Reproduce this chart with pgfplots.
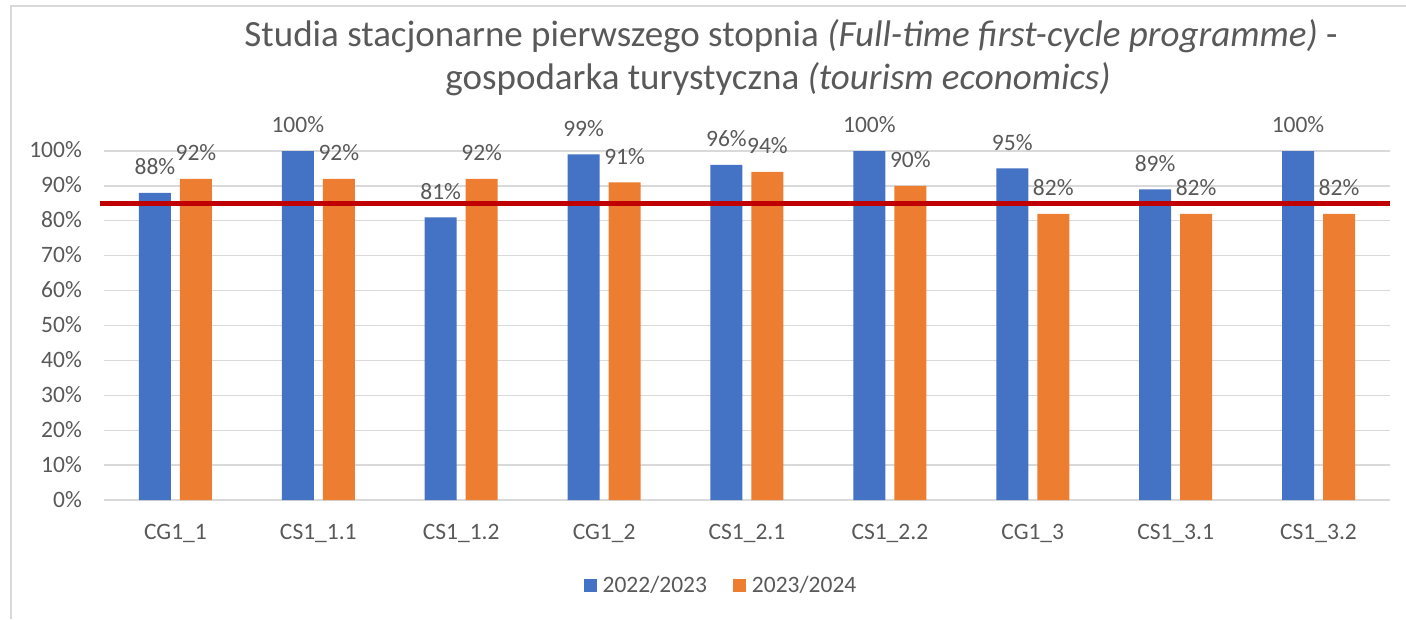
\documentclass[border=0pt]{standalone}
\usepackage{pgfplots}
\pgfplotsset{compat=1.18}
\usepackage{fontspec}
\setmainfont{Carlito}
\definecolor{cblue}{HTML}{4472C4}
\definecolor{corange}{HTML}{ED7D31}
\definecolor{cred}{HTML}{C00000}
\definecolor{tgray}{HTML}{595959}
\definecolor{ggray}{HTML}{D9D9D9}
\newcommand{\lblfont}{\fontsize{23.5}{28}\selectfont}
\begin{document}
\begin{tikzpicture}
\path[use as bounding box] (-104pt,-119pt) rectangle (1302pt,500pt);
\draw[ggray, line width=1.5pt] (-93pt,-119pt) -- (-93pt,494pt) -- (1302pt,494pt);
\begin{axis}[at={(0pt,0pt)}, anchor=south west, scale only axis,
  width=1286pt, height=349pt,
  xmin=-0.5, xmax=8.5, ymin=0, ymax=100, clip=false,
  ybar=9pt, bar width=32pt,
  axis line style={draw=none},
  major tick length=0pt,
  ytick={0,10,...,100},
  ymajorgrids, grid style={ggray, line width=1.3pt},
  /pgf/number format/assume math mode=true,
  yticklabel={\pgfmathprintnumber{\tick}\%},
  yticklabel style={anchor=base east, inner sep=0pt, xshift=-22pt, yshift=-7pt, font=\lblfont, text=tgray},
  xtick={0,...,8},
  xticklabels={CG1\_1, CS1\_1.1, CS1\_1.2, CG1\_2, CS1\_2.1, CS1\_2.2, CG1\_3, CS1\_3.1, CS1\_3.2},
  xticklabel style={anchor=base, inner sep=0pt, yshift=-39pt, font=\lblfont, text=tgray},
  nodes near coords={\pgfmathprintnumber{\pgfplotspointmeta}\%},
  nodes near coords style={anchor=base, inner sep=0pt, yshift=18pt, font=\lblfont, text=tgray},
  legend columns=2,
  legend style={draw=none, fill=none, at={(axis description cs:0.479,-0.2436)}, anchor=center,
    font=\lblfont, text=tgray, inner sep=0pt,
    nodes={inner sep=0pt},
    /tikz/every odd column/.style={column sep=6pt},
    /tikz/every even column/.style={column sep=26pt}},
  legend image code/.code={\fill[#1] (0pt,-6.5pt) rectangle (13pt,6.5pt);},
]
\addplot[fill=cblue, draw=none] coordinates {(0,88) (1,100) (2,81) (3,99) (4,96) (5,100) (6,95) (7,89) (8,100)};
\addplot[fill=corange, draw=none] coordinates {(0,92) (1,92) (2,92) (3,91) (4,94) (5,90) (6,82) (7,82) (8,82)};
\addplot[sharp plot, cred, line width=4.5pt, forget plot, nodes near coords={}] coordinates {(-0.53,85) (8.5,85)};
\legend{2022/2023, 2023/2024}
\end{axis}
\node[text=tgray, font=\fontsize{37}{44}\selectfont, inner sep=0pt, anchor=base] at (687pt,453pt) {Studia stacjonarne pierwszego stopnia \textit{(Full-time first-cycle programme)} -};
\node[text=tgray, font=\fontsize{37}{44}\selectfont, inner sep=0pt, anchor=base] at (674pt,410pt) {gospodarka turystyczna \textit{(tourism economics)}};
\end{tikzpicture}
\end{document}
